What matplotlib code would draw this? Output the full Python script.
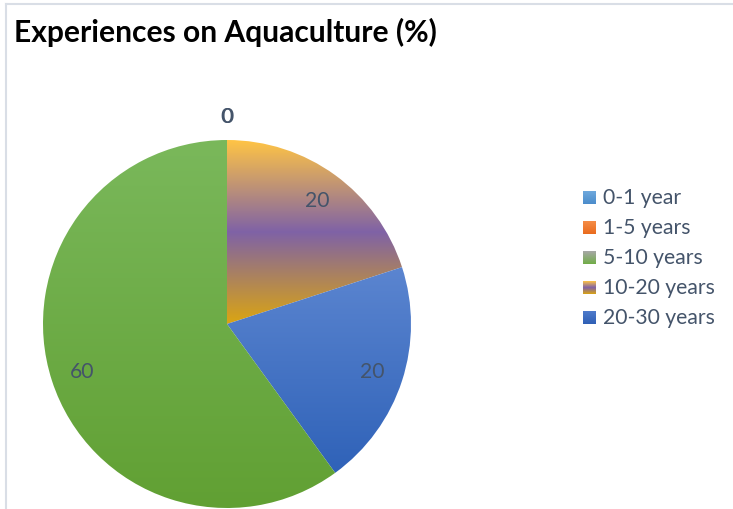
import matplotlib
matplotlib.use('Agg')
import matplotlib.pyplot as plt
import numpy as np
from matplotlib.colors import LinearSegmentedColormap

# data
categories = ['0-1 year', '1-5 years', '5-10 years', '10-20 years', '20-30 years']
values = [0, 0, 60, 20, 20]
# order the slices go round the pie, clockwise from 12 o'clock
slice_order = [0, 1, 3, 4, 2]

# gradient stops for each category (top -> bottom)
fills = [
    ['#6fa9dd', '#4b8ccb'],
    ['#f58d48', '#e96b1e'],
    ['#7ab85b', '#61a033'],
    ['#ffc445', '#7f62a6', '#dba512'],
    ['#5b85d0', '#2f62b8'],
]
swatch_fills = [
    ['#6fa9dd', '#4b8ccb'],
    ['#f58d48', '#e96b1e'],
    ['#a8a8a8', '#70ad47'],
    ['#ffc445', '#7f62a6', '#dba512'],
    ['#4f7bcb', '#2f5fb5'],
]
text_col = '#44546a'
font = 'Lato'

W, H = 733, 510
fig = plt.figure(figsize=(W / 100, H / 100), dpi=100)
ax = fig.add_axes([0, 0, 1, 1])

cx, cy, r = 227, H - 325, 184
wedges, _ = ax.pie([values[i] for i in slice_order], startangle=90, counterclock=False,
                   center=(cx, cy), radius=r, wedgeprops=dict(linewidth=0))

grad = np.linspace(0, 1, 256).reshape(-1, 1)
for w, i in zip(wedges, slice_order):
    w.set_facecolor('none')
    mid = np.deg2rad((w.theta1 + w.theta2) / 2)
    if values[i] > 0:
        ext = w.get_path().get_extents()
        cmap = LinearSegmentedColormap.from_list('c%d' % i, fills[i])
        ax.imshow(grad, cmap=cmap, extent=[ext.x0, ext.x1, ext.y0, ext.y1],
                  origin='upper', aspect='auto', clip_path=w, zorder=1)
        d = 0.83 * r
    else:
        # empty slices: label sits just outside the pie (both land on the same spot)
        d = 1.13 * r
    ax.text(cx + d * np.cos(mid), cy + d * np.sin(mid), str(values[i]),
            ha='center', va='center', fontsize=15.2, color=text_col, family=font, zorder=3)

# legend
for k, name in enumerate(categories):
    yc = H - (198 + 30 * k)
    cmap = LinearSegmentedColormap.from_list('s%d' % k, swatch_fills[k])
    ax.imshow(grad, cmap=cmap, extent=[583, 596, yc - 6.5, yc + 6.5],
              origin='upper', aspect='auto', zorder=2)
    ax.text(603, yc, name, ha='left', va='center', fontsize=15.2,
            color=text_col, family=font)

ax.text(14, H - 32, 'Experiences on Aquaculture (%)', ha='left', va='center',
        fontsize=21.6, fontweight='bold', color='black', family=font)

# chart area border (top and left edges visible)
ax.plot([6, W], [H - 5, H - 5], color='#d9dee6', lw=1.5)
ax.plot([6, 6], [H - 5, 0], color='#d9dee6', lw=1.5)

ax.set_xlim(0, W)
ax.set_ylim(0, H)
ax.axis('off')

fig.savefig('out.png', dpi=100)
